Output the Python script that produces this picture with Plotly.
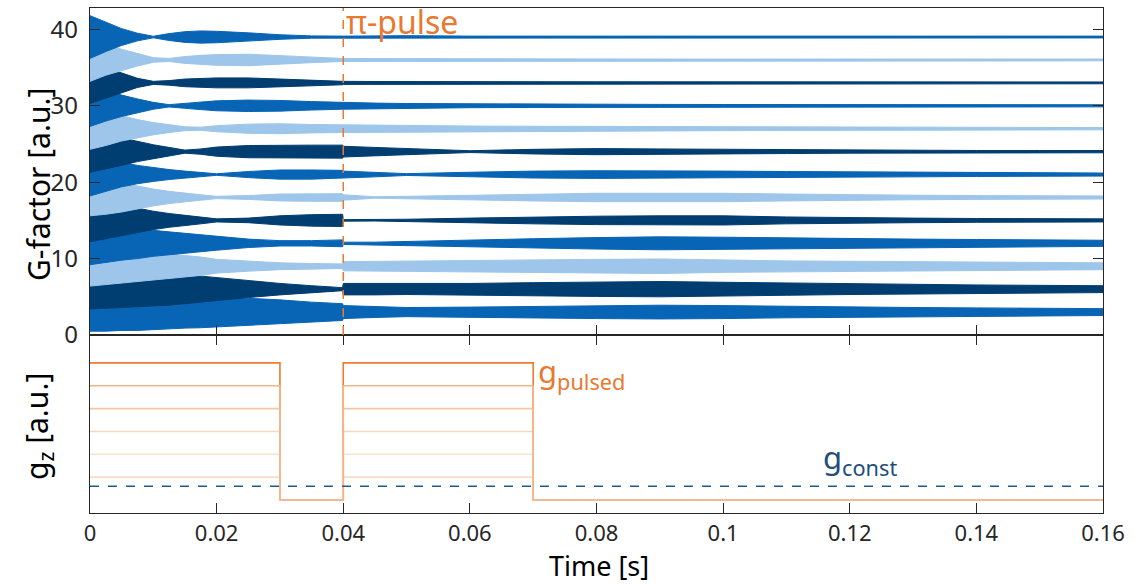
import plotly.graph_objects as go

# ---------------- data ----------------
# sample times [s] of the read-off envelopes (0.0399 / 0.04 bracket the pi-pulse)
T = [0, 0.0025, 0.005, 0.0075, 0.01, 0.0125, 0.015, 0.0175, 0.02, 0.025, 0.03, 0.035,
     0.0399, 0.04, 0.045, 0.05, 0.06, 0.07, 0.08, 0.09, 0.1, 0.11, 0.12, 0.13, 0.14, 0.15, 0.16]

# offsets of the 13 G-factor traces
OFFSETS = [3, 6, 9, 12, 15, 18, 21, 24, 27, 30, 33, 36, 39]

# oscillation half-amplitude (envelope) of each trace at the times T
ENV_03 = [2.5, 2.5, 2.4, 2.4, 2.3, 2.2, 2.1, 2.05, 2.0, 1.8, 1.6, 1.3, 1.1, 0.85, 0.7, 0.6, 0.65, 0.75, 0.85, 0.9, 0.85, 0.75, 0.65, 0.6, 0.55, 0.5, 0.45]
ENV_06 = [2.6, 2.5, 2.4, 2.3, 2.2, 2.1, 1.9, 1.7, 1.5, 1.1, 0.75, 0.45, 0.2, 0.75, 0.75, 0.7, 0.75, 0.85, 0.95, 1.0, 0.9, 0.8, 0.7, 0.6, 0.55, 0.5, 0.45]
ENV_09 = [2.6, 2.4, 2.2, 2.0, 1.8, 1.6, 1.4, 1.2, 0.9, 0.65, 0.45, 0.35, 0.3, 0.6, 0.65, 0.7, 0.8, 0.85, 0.9, 0.95, 0.8, 0.7, 0.65, 0.6, 0.55, 0.5, 0.45]
ENV_12 = [2.8, 2.5, 2.2, 2.0, 1.7, 1.5, 1.3, 1.1, 0.9, 0.55, 0.35, 0.35, 0.45, 0.15, 0.15, 0.25, 0.45, 0.6, 0.75, 0.85, 0.8, 0.7, 0.6, 0.55, 0.5, 0.45, 0.4]
ENV_15 = [2.8, 2.4, 2.0, 1.6, 1.2, 0.9, 0.65, 0.45, 0.2, 0.3, 0.6, 0.75, 0.8, 0.1, 0.08, 0.15, 0.3, 0.45, 0.55, 0.6, 0.6, 0.45, 0.35, 0.3, 0.25, 0.2, 0.2]
ENV_18 = [2.4, 2.2, 1.9, 1.5, 1.1, 0.8, 0.55, 0.35, 0.15, 0.25, 0.45, 0.5, 0.5, 0.35, 0.1, 0.15, 0.3, 0.45, 0.55, 0.55, 0.55, 0.45, 0.35, 0.3, 0.25, 0.2, 0.2]
ENV_21 = [2.8, 2.2, 1.6, 1.2, 0.9, 0.65, 0.45, 0.25, 0.1, 0.4, 0.6, 0.6, 0.55, 0.45, 0.3, 0.12, 0.3, 0.45, 0.5, 0.5, 0.45, 0.4, 0.35, 0.3, 0.25, 0.2, 0.2]
ENV_24 = [2.7, 2.3, 1.8, 1.3, 0.9, 0.55, 0.2, 0.35, 0.6, 0.8, 0.85, 0.85, 0.85, 0.7, 0.55, 0.4, 0.12, 0.3, 0.4, 0.35, 0.3, 0.25, 0.2, 0.18, 0.15, 0.15, 0.15]
ENV_27 = [2.7, 2.2, 1.6, 1.2, 0.8, 0.5, 0.25, 0.2, 0.4, 0.6, 0.65, 0.55, 0.5, 0.5, 0.45, 0.4, 0.35, 0.32, 0.3, 0.28, 0.25, 0.22, 0.2, 0.18, 0.15, 0.15, 0.15]
ENV_30 = [2.7, 2.0, 1.4, 0.9, 0.45, 0.15, 0.3, 0.5, 0.65, 0.75, 0.7, 0.55, 0.45, 0.4, 0.35, 0.3, 0.25, 0.22, 0.2, 0.18, 0.17, 0.16, 0.15, 0.15, 0.14, 0.14, 0.14]
ENV_33 = [2.7, 2.0, 1.3, 0.6, 0.2, 0.3, 0.5, 0.6, 0.65, 0.65, 0.5, 0.35, 0.25, 0.2, 0.18, 0.16, 0.15, 0.15, 0.14, 0.13, 0.12, 0.12, 0.12, 0.12, 0.12, 0.12, 0.12]
ENV_36 = [2.8, 2.0, 1.4, 0.8, 0.3, 0.2, 0.45, 0.6, 0.7, 0.75, 0.55, 0.35, 0.2, 0.2, 0.18, 0.16, 0.15, 0.14, 0.13, 0.12, 0.12, 0.12, 0.12, 0.12, 0.12, 0.12, 0.12]
ENV_39 = [2.8, 1.9, 1.1, 0.5, 0.1, 0.45, 0.7, 0.8, 0.75, 0.55, 0.3, 0.15, 0.1, 0.12, 0.15, 0.18, 0.12, 0.12, 0.12, 0.12, 0.12, 0.12, 0.12, 0.12, 0.12, 0.12, 0.12]
ENVELOPES = [ENV_03, ENV_06, ENV_09, ENV_12, ENV_15, ENV_18, ENV_21,
             ENV_24, ENV_27, ENV_30, ENV_33, ENV_36, ENV_39]

# gradient pulses (bottom panel)
PULSE_EDGES = [0, 0.03, 0.04, 0.07, 0.16]          # on, off, on, off, end
PULSE_ON = [1, 0, 1, 0, 0]                         # state after each edge
G_LEVELS = [6, 1, 2, 3, 4, 5]                      # drawing order (top first)
G_CONST = 0.6
PI_PULSE_T = 0.04

X_TICKS = [0, 0.02, 0.04, 0.06, 0.08, 0.1, 0.12, 0.14, 0.16]
Y_TICKS = [0, 10, 20, 30, 40]

# ---------------- style ----------------
BLUE_MID = "#0865b5"
BLUE_LIGHT = "#9dc6ea"
BLUE_DARK = "#003d70"
TRACE_COLORS = [BLUE_MID, BLUE_DARK, BLUE_LIGHT]
ORANGE = "#e8792f"
LEVEL_COLORS = {6: "#ec7c30", 5: "#f4b488", 4: "#f6c5a2", 3: "#f8d6bd", 2: "#fae1cf", 1: "#fadcc7"}
CONST_BLUE = "#1f5a8c"
AX = "#262626"
FONT = "Noto Sans"

W, H = 1139, 584
ML, MR, MT, MB = 90, 36, 8, 71
SPLIT = (H - MB - 335) / (H - MT - MB)

fig = go.Figure()

for i, (off, env) in enumerate(zip(OFFSETS, ENVELOPES)):
    col = TRACE_COLORS[i % 3]
    upper = [off + a for a in env]
    lower = [off - a for a in env]
    fig.add_trace(go.Scatter(
        x=T + T[::-1], y=upper + lower[::-1], fill="toself", fillcolor=col,
        mode="lines", line=dict(color=col, width=1), hoverinfo="skip",
        showlegend=False, xaxis="x", yaxis="y"))

for lev in G_LEVELS:
    fig.add_trace(go.Scatter(
        x=PULSE_EDGES, y=[lev * s for s in PULSE_ON], mode="lines",
        line=dict(color=LEVEL_COLORS[lev], width=1.6, shape="hv"),
        hoverinfo="skip", showlegend=False, xaxis="x2", yaxis="y2"))

fig.add_shape(type="line", xref="x2 domain", yref="y2", x0=0, x1=1, y0=G_CONST, y1=G_CONST,
              line=dict(color=CONST_BLUE, width=1.5, dash="dash"))
fig.add_shape(type="line", xref="x", yref="y domain", x0=PI_PULSE_T, x1=PI_PULSE_T, y0=0, y1=1,
              line=dict(color=ORANGE, width=1.5, dash="dash"), layer="above")

axcommon = dict(showgrid=False, zeroline=False, showline=True, linecolor=AX, linewidth=1.3,
                ticks="inside", ticklen=10, tickwidth=1.3, tickcolor=AX,
                tickfont=dict(family=FONT, size=24, color=AX))

fig.update_layout(
    width=W, height=H, margin=dict(l=ML, r=MR, t=MT, b=MB),
    paper_bgcolor="white", plot_bgcolor="white",
    font=dict(family=FONT, color=AX),
    xaxis=dict(axcommon, domain=[0, 1], range=[0, 0.16], anchor="y", tickvals=X_TICKS,
               showticklabels=False, mirror=True),
    yaxis=dict(axcommon, domain=[SPLIT, 1], range=[0, 42.8], anchor="x", tickvals=Y_TICKS,
               mirror="ticks", ticklabelstandoff=6),
    xaxis2=dict(axcommon, domain=[0, 1], range=[0, 0.16], anchor="y2", tickvals=X_TICKS,
                mirror="ticks", ticklabelstandoff=0,
                tickfont=dict(family=FONT, size=22, color=AX)),
    yaxis2=dict(axcommon, domain=[0, SPLIT], range=[-0.57, 7.22], anchor="x2",
                showticklabels=False, ticks="", mirror=True),
)

PW = W - ML - MR
PH = H - MT - MB
def px_x(p):
    return (p - ML) / PW
def px_y(p):
    return (H - MB - p) / PH

fig.add_annotation(text="G-factor [a.u.]", xref="paper", yref="paper", x=px_x(38), y=px_y(185),
                   xanchor="center", yanchor="middle",
                   textangle=-90, showarrow=False, font=dict(family=FONT, size=30, color="#000000"))
fig.add_annotation(text="g<sub>z</sub> [a.u.]", xref="paper", yref="paper", x=px_x(38), y=px_y(427),
                   xanchor="center", yanchor="middle",
                   textangle=-90, showarrow=False, font=dict(family=FONT, size=30, color="#000000"))
fig.add_annotation(text="Time [s]", xref="paper", yref="paper", x=px_x(599), y=px_y(565.5),
                   xanchor="center", yanchor="middle",
                   showarrow=False, font=dict(family=FONT, size=27, color="#000000"))
fig.add_annotation(text="π-pulse", xref="x", yref="paper", x=PI_PULSE_T, y=px_y(21),
                   xanchor="left", yanchor="middle", xshift=1, showarrow=False,
                   font=dict(family=FONT, size=32, color=ORANGE))
fig.add_annotation(text="g<sub>pulsed</sub>", xref="x2", yref="y2", x=PULSE_EDGES[3], y=5.55,
                   xanchor="left", yanchor="middle", xshift=3, showarrow=False,
                   font=dict(family=FONT, size=31, color=ORANGE))
fig.add_annotation(text="g<sub>const</sub>", xref="x2", yref="y2", x=0.1155, y=1.8,
                   xanchor="left", yanchor="middle", showarrow=False,
                   font=dict(family=FONT, size=31, color="#1f4e79"))

fig.write_html("out.html")
